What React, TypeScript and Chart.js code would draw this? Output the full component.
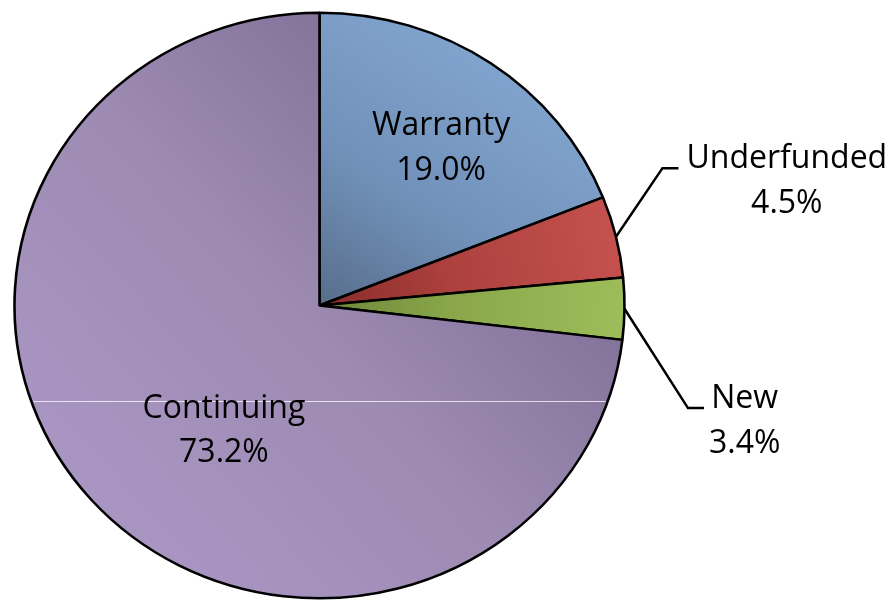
import React, { useEffect, useRef } from "react";
import { Chart, registerables } from "chart.js";

Chart.register(...registerables);

// ---- data ----
const categories = ["Warranty", "Underfunded", "New", "Continuing"];
const shares = [19.0, 4.5, 3.4, 73.2];

// ---- colours (dark near centre -> light at rim) ----
const darkColors = ["#586d8b", "#8a2c2a", "#6c8638", "#84739a"];
const midColors = ["#7090b8", "#ad413e", "#8aa84b", "#9d8bb3"];
const lightColors = ["#80a3cd", "#c4514d", "#9dbd5a", "#a995c2"];

// ---- label layout (styling, not data) ----
const insideLabelLayout: Record<string, { angle: number; frac: number }> = {
  Warranty: { angle: 38.3, frac: 0.643 },
  Continuing: { angle: 214.3, frac: 0.556 },
};
const outsideLabelLayout: Record<string, { dx: number; dy: number; run: number; gap: number }> = {
  Underfunded: { dx: 46.5, dy: -68.6, run: 16, gap: 8 },
  New: { dx: 63.5, dy: 99.4, run: 16, gap: 5 },
};

const W = 895;
const H = 601;
const RADIUS = 305;
const SQUASH = 0.96;
const FONT = '32px "Open Sans"';
const LINE_H = 44.5;

function sliceGradient(c: any) {
  const chart = c.chart;
  const area = chart.chartArea;
  const i = c.dataIndex;
  if (!area || i === undefined) return lightColors[i ?? 0];
  const total = shares.reduce((a, b) => a + b, 0);
  let cum = 0;
  for (let k = 0; k < i; k++) cum += shares[k];
  const a0 = -Math.PI / 2 + (2 * Math.PI * cum) / total;
  const a1 = a0 + (2 * Math.PI * shares[i]) / total;
  const m = (a0 + a1) / 2;
  const half = (a1 - a0) / 2;
  const pmin = Math.min(0, RADIUS * Math.cos(Math.min(half, Math.PI)));
  const cx = (area.left + area.right) / 2;
  const cy = (area.top + area.bottom) / 2;
  const dx = Math.cos(m);
  const dy = Math.sin(m);
  const g = chart.ctx.createLinearGradient(
    cx + dx * pmin,
    cy + dy * pmin,
    cx + dx * RADIUS,
    cy + dy * RADIUS
  );
  g.addColorStop(0, darkColors[i]);
  g.addColorStop(0.45, midColors[i]);
  g.addColorStop(1, lightColors[i]);
  return g;
}

const pieLook = {
  id: "pieLook",
  beforeDatasetsDraw(chart: any) {
    const a = chart.chartArea;
    const cx = (a.left + a.right) / 2;
    const cy = (a.top + a.bottom) / 2;
    const ctx = chart.ctx;
    ctx.save();
    ctx.translate(cx, cy);
    ctx.scale(1, SQUASH);
    ctx.translate(-cx, -cy);
  },
  afterDatasetsDraw(chart: any) {
    chart.ctx.restore();
  },
  afterDraw(chart: any) {
    const ctx = chart.ctx;
    const meta = chart.getDatasetMeta(0);
    const arcs = meta.data;
    if (!arcs.length) return;
    const cx = arcs[0].x;
    const cy = arcs[0].y;
    const R = arcs[0].outerRadius;

    // faint white scan line seen across the big slice
    ctx.save();
    const ly = Math.round(cy + 0.326 * R * SQUASH) + 0.5;
    const dyc = (ly - cy) / SQUASH;
    const half = Math.sqrt(Math.max(0, R * R - dyc * dyc)) - 2;
    ctx.strokeStyle = "rgba(255,255,255,0.75)";
    ctx.lineWidth = 1;
    ctx.beginPath();
    ctx.moveTo(cx - half, ly);
    ctx.lineTo(cx + half, ly);
    ctx.stroke();
    ctx.restore();

    ctx.save();
    ctx.font = FONT;
    ctx.fillStyle = "#000";
    ctx.textBaseline = "alphabetic";
    categories.forEach((name, i) => {
      const lines = [name, shares[i].toFixed(1) + "%"];
      const inside = insideLabelLayout[name];
      if (inside) {
        const ang = (inside.angle * Math.PI) / 180 - Math.PI / 2;
        const px = cx + inside.frac * R * Math.cos(ang);
        const py = cy + inside.frac * R * Math.sin(ang) * SQUASH;
        ctx.textAlign = "center";
        ctx.fillText(lines[0], px, py - LINE_H / 2);
        ctx.fillText(lines[1], px, py + LINE_H / 2);
        return;
      }
      const out = outsideLabelLayout[name];
      if (!out) return;
      const arc = arcs[i];
      const mid = (arc.startAngle + arc.endAngle) / 2;
      const sx = cx + R * Math.cos(mid);
      const sy = cy + R * Math.sin(mid) * SQUASH;
      const ex = sx + out.dx;
      const ey = sy + out.dy;
      const hx = ex + out.run;
      ctx.strokeStyle = "#000";
      ctx.lineWidth = 2.5;
      ctx.beginPath();
      ctx.moveTo(sx, sy);
      ctx.lineTo(ex, ey);
      ctx.lineTo(hx, ey);
      ctx.stroke();
      const wmax = Math.max(...lines.map((l) => ctx.measureText(l).width));
      const tx = hx + out.gap + wmax / 2;
      ctx.textAlign = "center";
      ctx.fillText(lines[0], tx, ey);
      ctx.fillText(lines[1], tx, ey + LINE_H);
    });
    ctx.restore();
  },
};

export default function App() {
  const ref = useRef<HTMLCanvasElement | null>(null);
  useEffect(() => {
    if (!ref.current) return;
    const chart = new Chart(ref.current, {
      type: "pie",
      data: {
        labels: categories,
        datasets: [
          {
            data: shares,
            backgroundColor: sliceGradient as any,
            borderColor: "#000000",
            borderWidth: 2.6,
            radius: RADIUS,
            clip: false as any,
          } as any,
        ],
      },
      options: {
        responsive: false,
        animation: false,
        events: [],
        layout: { padding: { top: 10, right: 256, left: 0, bottom: 0 } },
        plugins: {
          legend: { display: false },
          tooltip: { enabled: false },
        },
      },
      plugins: [pieLook],
    });
    return () => chart.destroy();
  }, []);
  return (
    <div style={{ position: "fixed", left: 0, top: 0, width: W, height: H, background: "#fff" }}>
      <canvas ref={ref} width={W} height={H} style={{ display: "block" }} />
    </div>
  );
}
